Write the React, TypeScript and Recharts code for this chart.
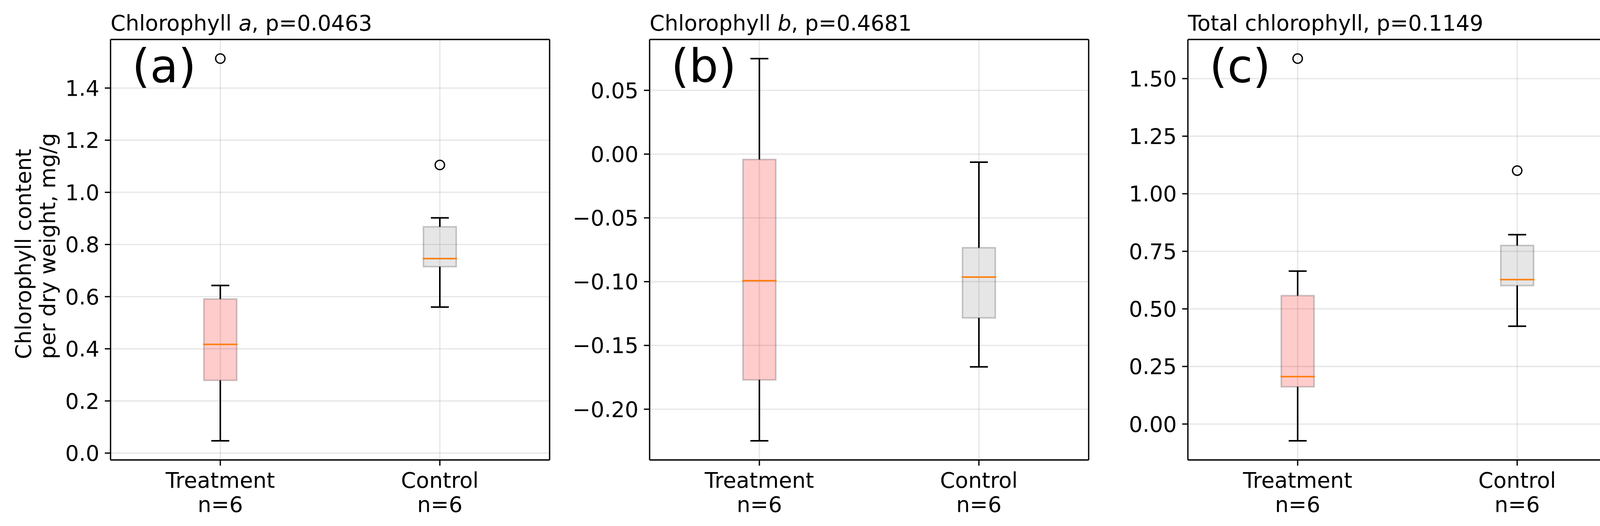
import { Bar, CartesianGrid, ComposedChart, XAxis, YAxis } from "recharts";

const groups = ["Treatment", "Control"];
const sampleSizes = [6, 6];

// Chlorophyll a
const chlAWhiskerLow = [0.047, 0.56];
const chlAQ1 = [0.279, 0.715];
const chlAMedian = [0.417, 0.746];
const chlAQ3 = [0.591, 0.868];
const chlAWhiskerHigh = [0.643, 0.902];
const chlAOutliers = [[1.513], [1.105]];
const chlATicks = [0, 0.2, 0.4, 0.6, 0.8, 1.0, 1.2, 1.4];

// Chlorophyll b
const chlBWhiskerLow = [-0.2248, -0.1668];
const chlBQ1 = [-0.177, -0.1284];
const chlBMedian = [-0.0992, -0.0964];
const chlBQ3 = [-0.0042, -0.0734];
const chlBWhiskerHigh = [0.0749, -0.0063];
const chlBOutliers: number[][] = [[], []];
const chlBTicks = [-0.2, -0.15, -0.1, -0.05, 0, 0.05];

// Total chlorophyll
const totalWhiskerLow = [-0.073, 0.4247];
const totalQ1 = [0.1617, 0.6012];
const totalMedian = [0.2058, 0.6272];
const totalQ3 = [0.5576, 0.7755];
const totalWhiskerHigh = [0.664, 0.8223];
const totalOutliers = [[1.587], [1.1006]];
const totalTicks = [0, 0.25, 0.5, 0.75, 1.0, 1.25, 1.5];

const FONT = "'DejaVu Sans', sans-serif";
const FIG_W = 4202;
const FIG_H = 1346;
const PLOT_TOP = 101;
const PLOT_BOTTOM = 1177;
const PLOT_WIDTH = 1124;
const LW = 3.3;
const boxColors: Record<string, string> = { Treatment: "red", Control: "gray" };

type Row = {
  name: string;
  lo: number;
  q1: number;
  med: number;
  q3: number;
  hi: number;
  out: number[];
};

const buildRows = (
  lo: number[],
  q1: number[],
  med: number[],
  q3: number[],
  hi: number[],
  out: number[][]
): Row[] =>
  groups.map((g, i) => ({
    name: g,
    lo: lo[i],
    q1: q1[i],
    med: med[i],
    q3: q3[i],
    hi: hi[i],
    out: out[i],
  }));

const extent = (r: Row): [number, number] => [
  Math.min(r.lo, ...r.out),
  Math.max(r.hi, ...r.out),
];

// matplotlib style 5% margins
const paddedDomain = (rows: Row[]): [number, number] => {
  const vals = rows.flatMap((r) => extent(r));
  const mn = Math.min(...vals);
  const mx = Math.max(...vals);
  const pad = (mx - mn) * 0.05;
  return [mn - pad, mx + pad];
};

const BoxShape = (props: any) => {
  const { x, y, width, height, payload } = props;
  const r = payload as Row;
  const [e0, e1] = extent(r);
  const top = Math.min(y, y + height);
  const bottom = Math.max(y, y + height);
  const k = (bottom - top) / (e1 - e0);
  const py = (v: number) => top + (e1 - v) * k;
  const cx = x + width / 2;
  const cap = width / 2;
  return (
    <g>
      <line x1={cx} x2={cx} y1={py(r.q3)} y2={py(r.hi)} stroke="#000" strokeWidth={4} />
      <line x1={cx} x2={cx} y1={py(r.q1)} y2={py(r.lo)} stroke="#000" strokeWidth={4} />
      <line x1={cx - cap / 2} x2={cx + cap / 2} y1={py(r.hi)} y2={py(r.hi)} stroke="#000" strokeWidth={4} strokeLinecap="square" />
      <line x1={cx - cap / 2} x2={cx + cap / 2} y1={py(r.lo)} y2={py(r.lo)} stroke="#000" strokeWidth={4} strokeLinecap="square" />
      <rect
        x={x}
        y={py(r.q3)}
        width={width}
        height={py(r.q1) - py(r.q3)}
        fill={boxColors[r.name]}
        fillOpacity={0.2}
        stroke="#000"
        strokeOpacity={0.2}
        strokeWidth={4}
      />
      <line x1={x} x2={x + width} y1={py(r.med)} y2={py(r.med)} stroke="#ff7f0e" strokeWidth={4} strokeLinecap="square" />
      {r.out.map((v, i) => (
        <circle key={i} cx={cx} cy={py(v)} r={12} fill="none" stroke="#000" strokeWidth={LW} />
      ))}
    </g>
  );
};

const GroupTick = (props: any) => {
  const { x, y, payload } = props;
  const i = groups.indexOf(payload.value);
  return (
    <text x={x} y={y} textAnchor="middle" fontSize={55} fontFamily={FONT} fill="#000">
      <tspan x={x} dy={56}>{payload.value}</tspan>
      <tspan x={x} dy={62}>n={sampleSizes[i]}</tspan>
    </text>
  );
};

const fmt = (digits: number) => (v: number) =>
  (v < 0 ? "\u2212" : "") + Math.abs(v).toFixed(digits);

interface PanelProps {
  left: number;
  plotLeft: number;
  rows: Row[];
  ticks: number[];
  digits: number;
}

const Panel = ({ left, plotLeft, rows, ticks, digits }: PanelProps) => {
  const domain = paddedDomain(rows);
  const yWidth = plotLeft - left;
  const rightMargin = 12;
  const width = yWidth + PLOT_WIDTH + 2 + rightMargin;
  const axisStyle = { stroke: "#000", strokeWidth: LW };
  return (
    <div style={{ position: "absolute", left, top: 0 }}>
      <ComposedChart
        width={width}
        height={FIG_H}
        data={rows}
        margin={{ top: PLOT_TOP - 2, right: rightMargin, bottom: 0, left: 0 }}
      >
        <CartesianGrid stroke="#b0b0b0" strokeOpacity={0.3} strokeWidth={LW} />
        <XAxis
          dataKey="name"
          type="category"
          interval={0}
          height={FIG_H - PLOT_BOTTOM}
          tick={<GroupTick />}
          tickSize={14.6}
          tickMargin={0}
          tickLine={axisStyle}
          axisLine={axisStyle}
        />
        <XAxis
          xAxisId="top"
          dataKey="name"
          orientation="top"
          height={2}
          tick={false}
          tickLine={false}
          axisLine={axisStyle}
        />
        <YAxis
          type="number"
          domain={domain}
          allowDataOverflow
          ticks={ticks}
          width={yWidth}
          tickFormatter={fmt(digits)}
          tickSize={14.6}
          tickMargin={14}
          tickLine={axisStyle}
          axisLine={axisStyle}
          tick={{ fontSize: 55, fill: "#000", fontFamily: FONT }}
        />
        <YAxis
          yAxisId="right"
          type="number"
          orientation="right"
          domain={domain}
          allowDataOverflow
          width={2}
          tick={false}
          tickLine={false}
          axisLine={axisStyle}
        />
        <Bar
          dataKey={(r: Row) => extent(r)}
          barSize={84}
          shape={<BoxShape />}
          isAnimationActive={false}
        />
      </ComposedChart>
    </div>
  );
};

const panelLefts = [283, 1663, 3041];

export default function App() {
  return (
    <div
      style={{
        position: "absolute",
        left: 0,
        top: 0,
        width: FIG_W,
        height: FIG_H,
        background: "#fff",
        overflow: "hidden",
      }}
    >
      <Panel
        left={0}
        plotLeft={panelLefts[0]}
        rows={buildRows(chlAWhiskerLow, chlAQ1, chlAMedian, chlAQ3, chlAWhiskerHigh, chlAOutliers)}
        ticks={chlATicks}
        digits={1}
      />
      <Panel
        left={1440}
        plotLeft={panelLefts[1]}
        rows={buildRows(chlBWhiskerLow, chlBQ1, chlBMedian, chlBQ3, chlBWhiskerHigh, chlBOutliers)}
        ticks={chlBTicks}
        digits={2}
      />
      <Panel
        left={2830}
        plotLeft={panelLefts[2]}
        rows={buildRows(totalWhiskerLow, totalQ1, totalMedian, totalQ3, totalWhiskerHigh, totalOutliers)}
        ticks={totalTicks}
        digits={2}
      />
      <svg
        width={FIG_W}
        height={FIG_H}
        style={{ position: "absolute", left: 0, top: 0, pointerEvents: "none" }}
        fontFamily={FONT}
      >
        <text x={panelLefts[0]} y={78} fontSize={55}>
          Chlorophyll <tspan fontStyle="italic">a</tspan>, p=0.0463
        </text>
        <text x={panelLefts[1]} y={78} fontSize={55}>
          Chlorophyll <tspan fontStyle="italic">b</tspan>, p=0.4681
        </text>
        <text x={panelLefts[2]} y={78} fontSize={55}>
          Total chlorophyll, p=0.1149
        </text>
        {["(a)", "(b)", "(c)"].map((s, i) => (
          <text key={s} x={panelLefts[i] + 55} y={210} fontSize={118}>
            {s}
          </text>
        ))}
        <text transform="rotate(-90)" fontSize={55} textAnchor="start">
          <tspan x={-919} y={79}>Chlorophyll content</tspan>
          <tspan x={-919} y={141}>per dry weight, mg/g</tspan>
        </text>
      </svg>
    </div>
  );
}
